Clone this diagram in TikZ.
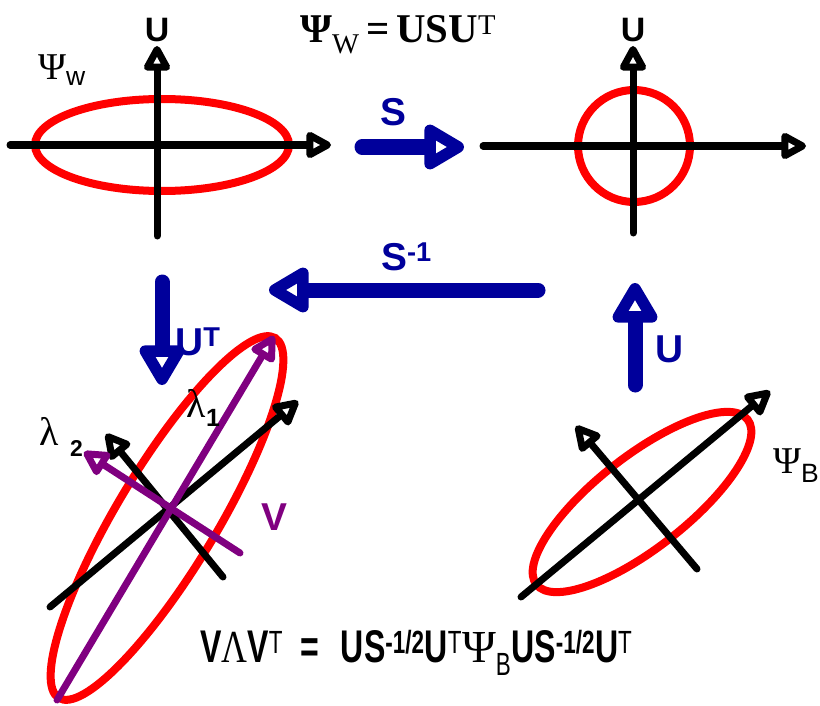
\documentclass[tikz,border=0pt]{standalone}
\usepackage{fontspec}
\setmainfont{Liberation Sans}
\newfontfamily\serifgreek{Liberation Serif}
\newfontfamily\narrowsans[FakeStretch=0.70]{Liberation Sans}
\newfontfamily\narrowserif[FakeStretch=0.78]{Liberation Serif}
\usetikzlibrary{arrows.meta}
\definecolor{navy}{RGB}{0,0,155}
\definecolor{plum}{RGB}{128,0,128}
\definecolor{scarlet}{RGB}{255,0,0}
\tikzset{
  axis/.style={draw=#1,line width=7bp,line cap=round,
    -{Triangle[open,length=29bp,width=29bp,line width=7bp,round]}},
  axis/.default=black,
  oparrow/.style={draw=navy,line width=15bp,line cap=round,
    -{Triangle[open,length=46bp,width=50bp,line width=17bp,round]}},
  cov/.style={draw=scarlet,line width=8bp},
  axlabel/.style={font=\fontsize{34}{40}\selectfont\bfseries,anchor=base},
  oplabel/.style={text=navy,font=\fontsize{39}{45}\selectfont\bfseries,anchor=base west,inner sep=0pt},
  covlabel/.style={font=\fontsize{38}{44}\selectfont,anchor=base west,inner sep=0pt},
}
\newcommand{\psym}[1]{{\serifgreek #1}}
\begin{document}
\begin{tikzpicture}[x=1bp,y=-1bp]
  \useasboundingbox (0,0) rectangle (820,706);
  % within-class covariance, original axes
  \coordinate (wc) at (162,145);
  \draw[cov] (wc) ellipse [x radius=127, y radius=46];
  \coordinate (wxl) at (10,145);  \coordinate (wxr) at (331,145);
  \coordinate (wyb) at (157,236); \coordinate (wyt) at (157,46);
  \draw[axis] (wxl) -- (wxr);
  \draw[axis] (wyb) -- (wyt);
  \node[axlabel] (wu) at (157,42) {U};
  \node[covlabel] (psiw) at (38,80) {\psym{Ψ}\textsubscript{w}};
  \node[covlabel,font=\fontsize{41}{47}\selectfont\serifgreek\bfseries] (wdef) at (300,43)
    {Ψ\textsubscript{\mdseries W}\,=\,USU\textsuperscript{\mdseries T}};
  % whitened: circle
  \coordinate (sc) at (634,146);
  \draw[cov] (sc) circle [radius=56];
  \coordinate (sxl) at (483,146); \coordinate (sxr) at (806,146);
  \coordinate (syb) at (633,233); \coordinate (syt) at (633,46);
  \draw[axis] (sxl) -- (sxr);
  \draw[axis] (syb) -- (syt);
  \node[axlabel] (su) at (633,42) {U};
  % operators
  \coordinate (s0) at (362,147);  \coordinate (s1) at (464,147);
  \draw[oparrow] (s0) -- (s1);
  \node[oplabel] (slbl) at (380,126) {S};
  \coordinate (si0) at (538,290); \coordinate (si1) at (269,290);
  \draw[oparrow] (si0) -- (si1);
  \node[oplabel] (silbl) at (381,270) {S\textsuperscript{-1}};
  \coordinate (ut0) at (162,282); \coordinate (ut1) at (162,385);
  \draw[oparrow] (ut0) -- (ut1);
  \node[oplabel] (utlbl) at (175,355) {U\textsuperscript{T}};
  \coordinate (u0) at (635,385);  \coordinate (u1) at (635,283);
  \draw[oparrow] (u0) -- (u1);
  \node[oplabel] (ulbl) at (655,362) {U};
  % between-class covariance, rotated axes
  \coordinate (bc) at (642,502);
  \draw[cov,rotate around={38:(bc)}] (bc) ellipse [x radius=134, y radius=46];
  \coordinate (bll) at (521,597); \coordinate (blr) at (770,391);
  \coordinate (bsr) at (697,569); \coordinate (bsl) at (576,426);
  \draw[axis] (bll) -- (blr);
  \draw[axis] (bsr) -- (bsl);
  \node[covlabel] (psib) at (773,473) {\psym{Ψ}\textsubscript{B}};
  % transformed problem with eigenvectors V
  \coordinate (vc) at (167,518);
  \draw[cov,rotate around={59:(vc)}] (vc) ellipse [x radius=210, y radius=50];
  \coordinate (all) at (50,607);  \coordinate (alr) at (298,401);
  \coordinate (asr) at (223,577); \coordinate (asl) at (106,434);
  \draw[axis] (all) -- (alr);
  \draw[axis] (asr) -- (asl);
  \coordinate (vll) at (57,700);  \coordinate (vlr) at (274,336);
  \coordinate (vsr) at (240,553); \coordinate (vsl) at (84,452);
  \draw[axis=plum] (vll) -- (vlr);
  \draw[axis=plum] (vsr) -- (vsl);
  \node[covlabel,font=\fontsize{40}{46}\selectfont] (lam1) at (186,417) {\psym{λ}};
  \node[covlabel,font=\fontsize{25}{30}\selectfont\bfseries] (lam1i) at (206,426) {1};
  \node[covlabel,font=\fontsize{40}{46}\selectfont] (lam2) at (39,445) {\psym{λ}};
  \node[covlabel,font=\fontsize{23}{28}\selectfont\bfseries] (lam2i) at (70,456) {2};
  \node[oplabel,text=plum] (vlbl) at (261,530) {V};
  % eigen problem
  \node[covlabel,font=\fontsize{46}{52}\selectfont\narrowsans\bfseries] (eig) at (200,662)
    {V{\narrowserif\mdseries Λ}V\textsuperscript{\mdseries T}\hspace{17bp}=\hspace{22bp}US\textsuperscript{-1/2}U\textsuperscript{\mdseries T}{\serifgreek\mdseries Ψ}\textsubscript{\mdseries B}US\textsuperscript{-1/2}U\textsuperscript{\mdseries T}};
\end{tikzpicture}
\end{document}
